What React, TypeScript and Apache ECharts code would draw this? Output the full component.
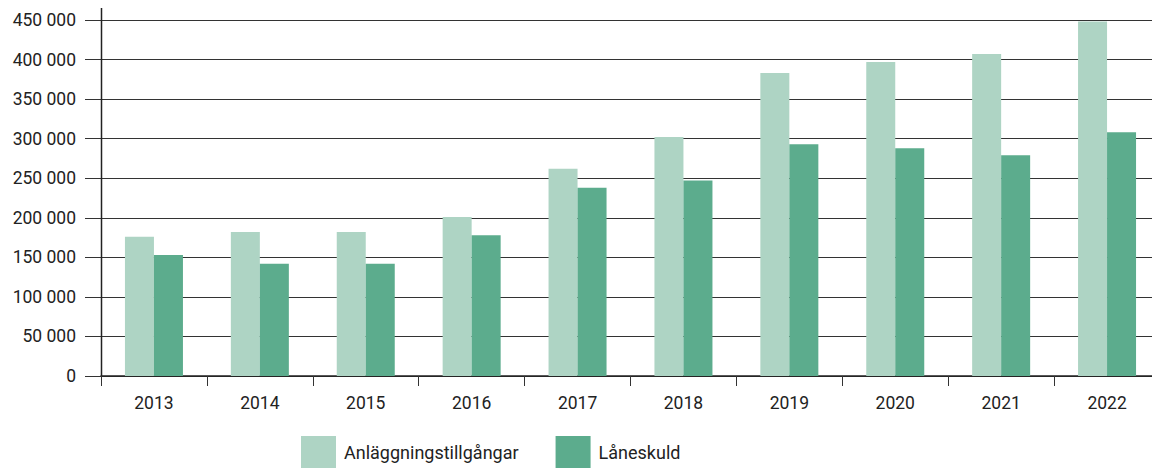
import React, { useEffect, useRef } from "react";
import * as echarts from "echarts";

const years = ["2013", "2014", "2015", "2016", "2017", "2018", "2019", "2020", "2021", "2022"];
const anlaggning = [176000, 182000, 182000, 201000, 262000, 302000, 383000, 397000, 407000, 448000];
const laneskuld = [153000, 142000, 142000, 178000, 238000, 247000, 293000, 288000, 279000, 308000];
const seriesNames = ["Anläggningstillgångar", "Låneskuld"];

const fmt = (v: number) => {
  const s = String(Math.round(v));
  return s.replace(/\B(?=(\d{3})+(?!\d))/g, " ");
};

export default function App() {
  const ref = useRef<HTMLDivElement>(null);
  useEffect(() => {
    const chart = echarts.init(ref.current!, undefined, { renderer: "svg" });
    const font = "Roboto";
    const fs = 17.5;
    chart.setOption({
      animation: false,
      textStyle: { fontFamily: font },
      grid: {
        left: 101,
        width: 1059,
        top: 20,
        height: 356,
        containLabel: false,
        outerBoundsMode: "none",
      },
      legend: {
        left: 301,
        top: 436,
        padding: 0,
        itemWidth: 35,
        itemHeight: 32,
        itemGap: 37,
        icon: "rect",
        textStyle: { fontFamily: font, fontSize: 18, color: "#222", padding: [0, 0, 0, 3] },
        data: seriesNames,
      },
      xAxis: {
        type: "category",
        data: years,
        axisLine: { show: true, lineStyle: { color: "#222", width: 1.5 } },
        axisTick: { show: true, length: 10, alignWithLabel: false, lineStyle: { color: "#333" } },
        axisLabel: { fontFamily: font, fontSize: fs, color: "#222", margin: 18 },
      },
      yAxis: {
        type: "value",
        min: 0,
        max: 450000,
        interval: 50000,
        axisLine: { show: false },
        axisTick: { show: true, length: 16, lineStyle: { color: "#333" } },
        axisLabel: { fontFamily: font, fontSize: fs, color: "#222", margin: 25, formatter: fmt },
        splitLine: { show: true, lineStyle: { color: "#333", width: 1 } },
      },
      graphic: [
        {
          type: "line",
          shape: { x1: 101.5, y1: 8, x2: 101.5, y2: 376 },
          style: { stroke: "#222", lineWidth: 1.5 },
          z: 100,
        },
      ],
      series: [
        {
          name: seriesNames[0],
          type: "bar",
          data: anlaggning,
          barWidth: 29,
          barGap: "0%",
          itemStyle: { color: "#aed4c4" },
        },
        {
          name: seriesNames[1],
          type: "bar",
          data: laneskuld,
          barWidth: 29,
          barGap: "0%",
          itemStyle: { color: "#5cac8d" },
        },
      ],
    });
    return () => chart.dispose();
  }, []);
  return (
    <div
      ref={ref}
      style={{ position: "absolute", left: 0, top: 0, width: 1152, height: 468 }}
    />
  );
}
